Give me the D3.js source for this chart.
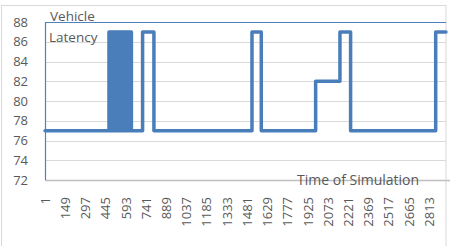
<!DOCTYPE html>
<html>
<head>
<meta charset="utf-8">
<script src="https://cdn.jsdelivr.net/npm/d3@7"></script>
<style>
  body { margin: 0; background: #fff; }
  text { font-family: "Open Sans", sans-serif; fill: #595959; }
</style>
</head>
<body>
<script>
// step change points of the latency series (time index, latency from that point on)
var changeTimes = [1, 469, 477, 486, 494, 503, 512, 520, 529, 537, 546, 555, 563, 572, 580, 589, 598, 606, 615, 624, 633,
    715, 798, 1516, 1584, 1982, 2160, 2238, 2861, 2936];
var changeValues = [77, 87, 77, 87, 77, 87, 77, 87, 77, 87, 77, 87, 77, 87, 77, 87, 77, 87, 77, 87, 77,
    87, 77, 87, 77, 82, 87, 77, 87, 87];
var sampleCount = 2936;
var yTicks = [72, 74, 76, 78, 80, 82, 84, 86, 88];
var xTickLabels = [1, 149, 297, 445, 593, 741, 889, 1037, 1185, 1333, 1481, 1629, 1777, 1925, 2073, 2221, 2369, 2517, 2665, 2813];

var width = 453, height = 246;
var plot = { left: 45, right: 446, top: 22, bottom: 180 };

var svg = d3.select("body").append("svg")
    .attr("width", width)
    .attr("height", height);

// chart border
svg.append("rect")
    .attr("x", 1.5).attr("y", 5.5)
    .attr("width", 444.5).attr("height", 245)
    .attr("fill", "none")
    .attr("stroke", "#d9d9d9");

var x = d3.scaleLinear().domain([0.5, sampleCount + 0.5]).range([plot.left, plot.right]);
var y = d3.scaleLinear().domain([72, 88]).range([plot.bottom, plot.top]);

// gridlines
svg.append("g")
    .selectAll("line")
    .data(yTicks.slice(1, -1))
    .enter().append("line")
    .attr("x1", plot.left).attr("x2", plot.right)
    .attr("y1", function (d) { return Math.round(y(d)) + 0.5; })
    .attr("y2", function (d) { return Math.round(y(d)) + 0.5; })
    .attr("stroke", "#d9d9d9");

// y tick labels
svg.append("g")
    .selectAll("text")
    .data(yTicks)
    .enter().append("text")
    .attr("x", 28)
    .attr("y", function (d) { return y(d); })
    .attr("dy", "0.36em")
    .attr("text-anchor", "end")
    .style("font-size", "13px")
    .text(function (d) { return d; });

// x axis line
svg.append("line")
    .attr("x1", plot.left).attr("x2", 450)
    .attr("y1", plot.bottom + 0.5).attr("y2", plot.bottom + 0.5)
    .attr("stroke", "#bfbfbf")
    .attr("stroke-width", 1.5);

// x tick labels, rotated
svg.append("g")
    .selectAll("text")
    .data(xTickLabels)
    .enter().append("text")
    .attr("transform", function (d) { return "translate(" + x(d) + ",197) rotate(-90)"; })
    .attr("dy", "0.36em")
    .attr("text-anchor", "end")
    .style("font-size", "13px")
    .text(function (d) { return d; });

// top line and y axis line (blue)
svg.append("line")
    .attr("x1", plot.left).attr("x2", plot.right)
    .attr("y1", plot.top + 0.5).attr("y2", plot.top + 0.5)
    .attr("stroke", "#4f81bd")
    .attr("stroke-width", 1.2);
svg.append("line")
    .attr("x1", plot.left + 0.5).attr("x2", plot.left + 0.5)
    .attr("y1", plot.top).attr("y2", plot.bottom)
    .attr("stroke", "#4f81bd")
    .attr("stroke-width", 1.2);

// axis titles
svg.append("text")
    .attr("x", 50).attr("y", 21)
    .style("font-size", "13.5px")
    .text("Vehicle");
svg.append("text")
    .attr("x", 49).attr("y", 42)
    .style("font-size", "13.5px")
    .text("Latency");
svg.append("text")
    .attr("x", 297).attr("y", 185)
    .style("font-size", "14px")
    .text("Time of Simulation");

// latency series
var points = changeTimes.map(function (t, i) { return [t, changeValues[i]]; });
var line = d3.line()
    .x(function (d) { return x(d[0]); })
    .y(function (d) { return y(d[1]); })
    .curve(d3.curveStepAfter);

svg.append("path")
    .datum(points)
    .attr("fill", "none")
    .attr("stroke", "#4a7ebb")
    .attr("stroke-width", 3.5)
    .attr("stroke-linejoin", "round")
    .attr("stroke-linecap", "round")
    .attr("d", line);
</script>
</body>
</html>
